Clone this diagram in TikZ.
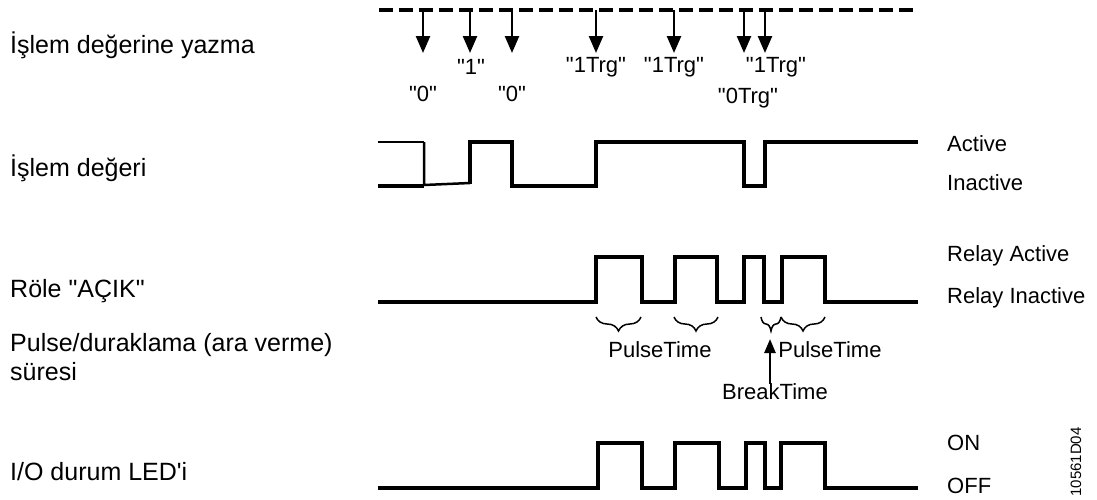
\documentclass[tikz,border=0pt]{standalone}
\usepackage{fontspec}
\setmainfont{Liberation Sans}[Ligatures=TeXOff]
\usetikzlibrary{arrows.meta,decorations.pathreplacing}

\tikzset{
  sig/.style={line width=3.5pt, line join=miter},
  wrarrow/.style={line width=2.5pt, -{Triangle[length=17pt,width=14pt]}},
  brkarrow/.style={line width=2.5pt, -{Triangle[length=14pt,width=11pt]}},
  pbrace/.style={decorate, decoration={brace, mirror, amplitude=14pt}, line width=1.5pt},
  lbl/.style={anchor=west, inner sep=0pt, font=\fontsize{25}{29}\selectfont},
  state/.style={anchor=west, inner sep=0pt, font=\fontsize{22}{26}\selectfont},
  val/.style={inner sep=0pt, font=\fontsize{22}{26}\selectfont},
}

\begin{document}
\begin{tikzpicture}[x=1pt, y=-1pt]
  \useasboundingbox (0,0) rectangle (1097,499);

  \node[lbl] (lwrite) at (10,45) {İşlem değerine yazma};
  \node[lbl] (lvalue) at (10,168) {İşlem değeri};
  \node[lbl] (lrelay) at (10,291) {Röle "AÇIK"};
  \node[lbl, align=left] (ltime) at (10,357) {Pulse/duraklama (ara verme)\\süresi};
  \node[lbl] (lled) at (10,472) {I/O durum LED'i};

  \coordinate (busL) at (379,10);
  \coordinate (busR) at (918,10);
  \draw[line width=3.5pt, dash pattern=on 14pt off 6pt] (busL) -- (busR);
  \foreach \i/\x in {1/423,2/470,3/512,4/596,5/674,6/744,7/765}{
    \coordinate (top\i) at (\x,10);
    \coordinate (tip\i) at (\x,53);
    \draw[wrarrow] (top\i) -- (tip\i);
  }
  \node[val] (v1) at (423,94) {"0"};
  \node[val] (v2) at (471,67) {"1"};
  \node[val] (v3) at (512,94) {"0"};
  \node[val] (v4) at (596,67) {"1Trg"};
  \node[val] (v5) at (674,67) {"1Trg"};
  \node[val] (v6) at (748,98) {"0Trg"};
  \node[val] (v7) at (776,67) {"1Trg"};

  \draw[line width=1.5pt] (378,142) -- (424,142);
  \draw[sig] (378,186) -- (424,186);
  \draw[line width=2.5pt] (424,142) -- (424,185) -- (470,183);
  \draw[sig] (470,184) -- (470,142) -- (512,142) -- (512,186) -- (596,186)
    -- (596,142) -- (744,142) -- (744,186) -- (765,186) -- (765,142) -- (918,142);
  \node[state] (sact) at (947,144) {Active};
  \node[state] (sinact) at (947,183) {Inactive};

  \draw[sig] (378,302) -- (596,302) -- (596,257) -- (642,257) -- (642,302)
    -- (675,302) -- (675,257) -- (717,257) -- (717,302) -- (744,302)
    -- (744,257) -- (764,257) -- (764,302) -- (782,302) -- (782,257)
    -- (825,257) -- (825,302) -- (918,302);
  \node[state] (ract) at (947,256) {Relay Active};
  \node[state] (rinact) at (947,298) {Relay Inactive};

  \draw[pbrace] (596,317) -- (641,317);
  \draw[pbrace] (674,317) -- (718,317);
  \draw[pbrace] (761,317) -- (781,317);
  \draw[pbrace] (781,317) -- (825,317);
  \node[val] (pt1) at (660,350) {PulseTime};
  \node[val] (pt2) at (830,350) {PulseTime};
  \node[val] (brk) at (775,392) {BreakTime};
  \coordinate (brktip) at (770,339);
  \draw[brkarrow] (brk.north -| brktip) -- (brktip);

  \draw[sig] (378,488) -- (598,488) -- (598,443) -- (642,443) -- (642,488)
    -- (675,488) -- (675,443) -- (719,443) -- (719,488) -- (746,488)
    -- (746,443) -- (765,443) -- (765,488) -- (781,488) -- (781,443)
    -- (825,443) -- (825,488) -- (918,488);
  \node[state] (lon) at (947,443) {ON};
  \node[state] (loff) at (947,486) {OFF};
  \node[rotate=90, inner sep=0pt, font=\fontsize{15}{17}\selectfont] (code) at (1076,462) {10561D04};
\end{tikzpicture}
\end{document}
